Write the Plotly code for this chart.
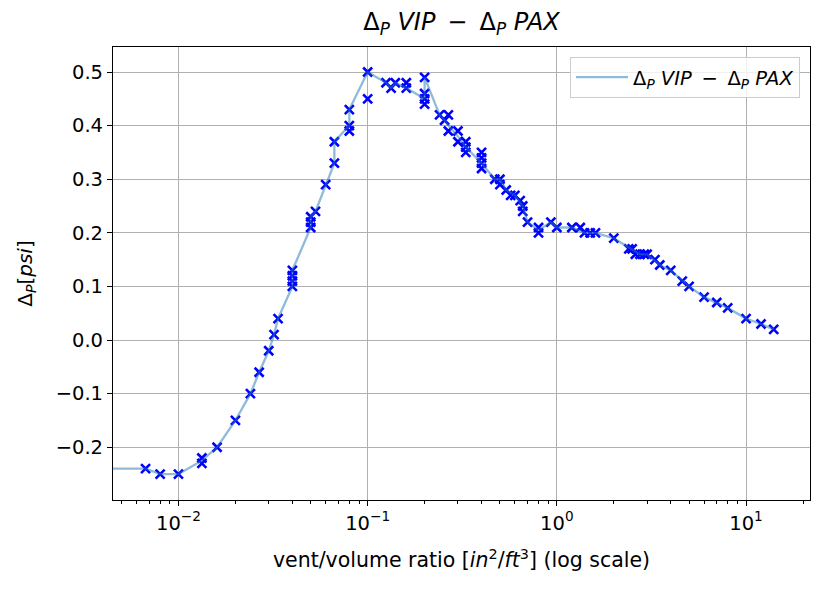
import numpy as np
import plotly.graph_objects as go

# ---- data ----
marker_x = [0.0067, 0.008, 0.01, 0.0133, 0.0133, 0.016, 0.02, 0.024, 0.0267, 0.03,
            0.032, 0.0336, 0.04, 0.04, 0.04, 0.04, 0.05, 0.05, 0.05, 0.053,
            0.06, 0.0667, 0.0667, 0.08, 0.08, 0.08, 0.1, 0.1, 0.125, 0.133,
            0.14, 0.16, 0.16, 0.2, 0.2, 0.2, 0.2, 0.24, 0.255, 0.267,
            0.267, 0.3, 0.3, 0.33, 0.33, 0.33, 0.4, 0.4, 0.4, 0.4,
            0.47, 0.5, 0.5, 0.54, 0.57, 0.6, 0.64, 0.66, 0.66, 0.7,
            0.8, 0.8, 0.93, 1.0, 1.2, 1.33, 1.4, 1.5, 1.6, 2.0,
            2.4, 2.5, 2.6, 2.75, 2.9, 3.0, 3.3, 3.5, 4.0, 4.6,
            5.0, 6.0, 7.0, 8.0, 10.0, 12.0, 14.0]
marker_y = [-0.24, -0.25, -0.25, -0.22, -0.23, -0.20, -0.15, -0.10, -0.06, -0.02,
            0.01, 0.04, 0.13, 0.12, 0.11, 0.10, 0.21, 0.22, 0.23, 0.24,
            0.29, 0.33, 0.37, 0.39, 0.40, 0.43, 0.45, 0.50, 0.48, 0.47,
            0.48, 0.48, 0.47, 0.44, 0.45, 0.46, 0.49, 0.42, 0.41, 0.42,
            0.39, 0.39, 0.37, 0.37, 0.36, 0.35, 0.35, 0.34, 0.33, 0.32,
            0.30, 0.30, 0.29, 0.28, 0.27, 0.27, 0.26, 0.25, 0.24, 0.22,
            0.21, 0.20, 0.22, 0.21, 0.21, 0.21, 0.20, 0.20, 0.20, 0.19,
            0.17, 0.17, 0.16, 0.16, 0.16, 0.16, 0.15, 0.14, 0.13, 0.11,
            0.10, 0.08, 0.07, 0.06, 0.04, 0.03, 0.02]

line_x = [1e-4, 0.0067, 0.008, 0.01, 0.0133, 0.016, 0.02, 0.024, 0.0267, 0.03,
          0.032, 0.0336, 0.04, 0.04, 0.05, 0.05, 0.053, 0.06, 0.0667, 0.0667,
          0.08, 0.08, 0.1, 0.125, 0.133, 0.14, 0.16, 0.2, 0.2, 0.24,
          0.255, 0.267, 0.3, 0.33, 0.4, 0.47, 0.5, 0.54, 0.6, 0.66,
          0.7, 0.8, 0.93, 1.0, 1.2, 1.4, 1.6, 2.0, 2.5, 2.75,
          3.0, 3.5, 4.0, 5.0, 6.0, 7.0, 8.0, 10.0, 12.0, 14.0]
line_y = [-0.24, -0.24, -0.25, -0.25, -0.225, -0.20, -0.15, -0.10, -0.06, -0.02,
          0.01, 0.04, 0.10, 0.13, 0.21, 0.23, 0.24, 0.29, 0.33, 0.37,
          0.40, 0.43, 0.50, 0.48, 0.47, 0.48, 0.47, 0.45, 0.49, 0.42,
          0.41, 0.40, 0.38, 0.36, 0.33, 0.30, 0.30, 0.28, 0.27, 0.25,
          0.22, 0.205, 0.22, 0.21, 0.21, 0.20, 0.20, 0.19, 0.17, 0.16,
          0.16, 0.14, 0.13, 0.10, 0.08, 0.07, 0.06, 0.04, 0.03, 0.02]

x_tickvals = [0.01, 0.1, 1, 10]
x_ticktext = ["10<sup>−2</sup>", "10<sup>−1</sup>", "10<sup>0</sup>", "10<sup>1</sup>"]
y_tickvals = [-0.2, -0.1, 0.0, 0.1, 0.2, 0.3, 0.4, 0.5]
y_ticktext = ["−0.2", "−0.1", "0.0", "0.1", "0.2", "0.3", "0.4", "0.5"]

label = "Δ<sub><i>P</i></sub> <i>VIP</i>\u2002−\u2002Δ<sub><i>P</i></sub> <i>PAX</i>"

FONT = "DejaVu Sans"
W, H = 828, 589
L, R, T, B = 113, 18, 47, 89
TICK = 19.5

minor_x = [m * 10.0 ** k for k in range(-3, 2) for m in range(2, 10)]

fig = go.Figure()
fig.add_trace(go.Scatter(
    x=marker_x, y=marker_y, mode="markers", showlegend=False,
    marker=dict(symbol="x-thin", size=9, color="#0000ff",
                line=dict(color="#0000ff", width=2.6)),
))
fig.add_trace(go.Scatter(
    x=line_x, y=line_y, mode="lines", name=label,
    line=dict(color="rgba(31,119,180,0.5)", width=2.3),
))

axis_common = dict(
    showline=True, linecolor="black", linewidth=1.2, mirror=True,
    ticks="outside", ticklen=5, tickwidth=1.2, tickcolor="black",
    showgrid=True, gridcolor="#b0b0b0", gridwidth=1.2,
    zeroline=False, tickfont=dict(family=FONT, size=TICK, color="black"),
)

fig.update_layout(
    width=W, height=H,
    margin=dict(l=L, r=R, t=T, b=B),
    paper_bgcolor="white", plot_bgcolor="white",
    font=dict(family=FONT, size=TICK, color="black"),
    title=dict(text=label, x=(L + (W - R)) / 2 / W, xanchor="center",
               y=1 - 22 / H, yanchor="middle",
               font=dict(family=FONT, size=24, color="black")),
    xaxis=dict(type="log", range=[-2.346, 1.338],
               tickmode="array", tickvals=x_tickvals, ticktext=x_ticktext,
               title=dict(text="vent/volume ratio [<i>in</i><sup>2</sup>/<i>ft</i><sup>3</sup>] (log scale)",
                          standoff=19, font=dict(family=FONT, size=20.5)),
               minor=dict(tickmode="array", tickvals=minor_x, ticks="outside",
                          ticklen=3, tickwidth=0.9, tickcolor="black", showgrid=False),
               **axis_common),
    yaxis=dict(range=[-0.2984, 0.5467],
               tickmode="array", tickvals=y_tickvals, ticktext=y_ticktext,
               title=dict(text="Δ<sub><i>P</i></sub>[<i>psi</i>]", standoff=17,
                          font=dict(family=FONT, size=20)),
               **axis_common),
    legend=dict(x=0.9857, xanchor="right", y=0.978, yanchor="top",
                itemwidth=52,
                bgcolor="rgba(255,255,255,0.8)", bordercolor="#cccccc", borderwidth=1,
                font=dict(family=FONT, size=TICK, color="black")),
)

fig.write_html("out.html")
